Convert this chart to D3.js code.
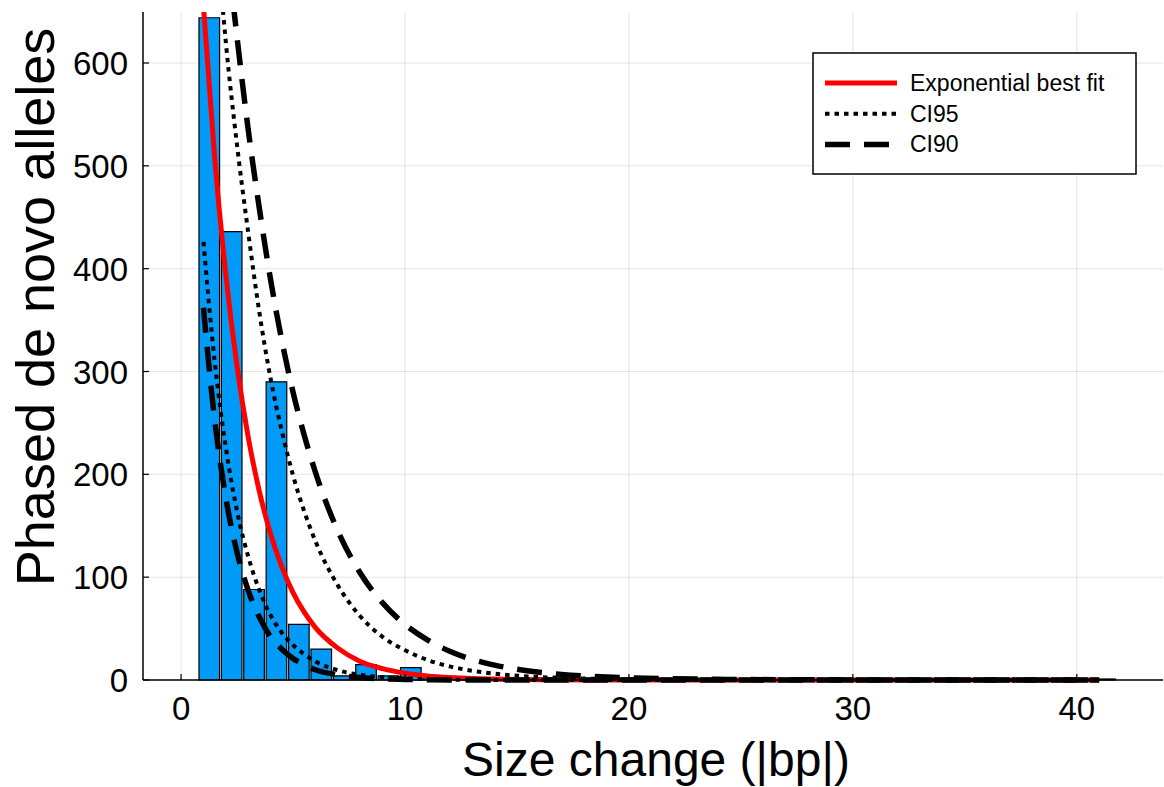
<!DOCTYPE html>
<html>
<head>
<meta charset="utf-8">
<script src="https://cdn.jsdelivr.net/npm/d3@7"></script>
<style>
  html, body { margin: 0; padding: 0; background: #fff; }
  svg { display: block; font-family: "Liberation Sans", Arial, Helvetica, sans-serif; }
</style>
</head>
<body>
<svg id="chart" width="1164" height="787"></svg>
<script>
// ---------- data ----------
const sizes  = d3.range(1, 42); // |bp| size change bins 1..41
const counts = [644, 436, 88, 290, 54, 30, 4, 15, 4, 12,
                2, 3, 1, 2, 1, 2, 1, 1, 1, 2,
                1, 1, 1, 1, 0, 1, 1, 0, 1, 1,
                0, 1, 1, 0, 1, 1, 0, 1, 0, 1, 1];

const curveX   = [1, 1.5, 2, 2.5, 3, 3.5, 4, 4.5, 5, 5.5, 6, 7, 8, 9, 10, 11, 12, 13, 14, 15, 16, 17, 18, 20, 22, 25, 30, 35, 41];
const bestFit  = [655, 508, 394, 305, 236, 183, 142, 110, 85, 66, 51, 31, 18, 11, 6.6, 4, 2.4, 1.4, 0.9, 0.5, 0.3, 0.2, 0.1, 0.05, 0, 0, 0, 0, 0];
const ci95Low  = [426, 310, 226, 164, 120, 87, 63, 46, 34, 25, 18, 9.5, 5, 2.7, 1.4, 0.8, 0.4, 0.2, 0.1, 0, 0, 0, 0, 0, 0, 0, 0, 0, 0];
const ci95High = [900, 750, 620, 520, 435, 357, 293, 242, 199, 164, 135, 92, 62, 42, 29, 19.5, 13.2, 9, 6.1, 4.2, 2.9, 2, 1.4, 0.7, 0.3, 0.1, 0, 0, 0];
const ci90Low  = [362, 253, 177, 124, 87, 61, 42, 30, 21, 15, 10, 5, 2.4, 1.2, 0.6, 0.3, 0.1, 0, 0, 0, 0, 0, 0, 0, 0, 0, 0, 0, 0];
const ci90High = [1000, 850, 725, 625, 535, 458, 389, 330, 280, 238, 202, 145, 104, 75, 54, 39, 28, 20, 14.5, 10.4, 7.5, 5.4, 3.9, 2.2, 1.2, 0.5, 0.1, 0, 0];

const xTicks = [0, 10, 20, 30, 40];
const yTicks = [0, 100, 200, 300, 400, 500, 600];
const xTitle = "Size change (|bp|)";
const yTitle = "Phased de novo alleles";
const legendItems = [
  {label: "Exponential best fit", style: "fit"},
  {label: "CI95", style: "dot"},
  {label: "CI90", style: "dash"}
];

// ---------- layout ----------
const L = 143, R = 1163, T = 12, B = 680;
const svg = d3.select("#chart");
const x = d3.scaleLinear().domain([-1.7, 43.85]).range([L, R]);
const y = d3.scaleLinear().domain([0, 649.6]).range([B, T]);

const styles = {
  fit:  {stroke: "#ff0000", width: 5, dash: null},
  dot:  {stroke: "#000", width: 4, dash: "4.5,5"},
  dash: {stroke: "#000", width: 5.5, dash: "25,14"}
};

// grid
const grid = svg.append("g");
grid.selectAll("line.gx").data(xTicks).join("line")
  .attr("x1", d => x(d)).attr("x2", d => x(d)).attr("y1", T).attr("y2", B)
  .attr("stroke", "#000").attr("stroke-opacity", 0.1).attr("stroke-width", 1);
grid.selectAll("line.gy").data(yTicks).join("line")
  .attr("x1", L).attr("x2", R).attr("y1", d => y(d)).attr("y2", d => y(d))
  .attr("stroke", "#000").attr("stroke-opacity", 0.1).attr("stroke-width", 1);

// clip
svg.append("clipPath").attr("id", "clip").append("rect")
  .attr("x", L).attr("y", T).attr("width", R - L).attr("height", B - T + 3);
const plot = svg.append("g").attr("clip-path", "url(#clip)");

// bars
const bars = sizes.map((s, i) => ({s, c: counts[i]}));
plot.append("g").selectAll("path").data(bars).join("path")
  .attr("d", d => {
    const x0 = x(d.s - 0.2), x1 = x(d.s + 0.72), y0 = y(0), y1 = y(d.c);
    return `M${x0},${y0}L${x0},${y1}L${x1},${y1}L${x1},${y0}Z`;
  })
  .attr("fill", "#009af9").attr("stroke", "#000").attr("stroke-width", 1.2);

// curves
const line = d3.line().x(d => x(d[0])).y(d => y(d[1])).curve(d3.curveMonotoneX);
function drawCurve(vals, st) {
  const s = styles[st];
  plot.append("path").datum(curveX.map((cx, i) => [cx, vals[i]]))
    .attr("d", line).attr("fill", "none")
    .attr("stroke", s.stroke).attr("stroke-width", s.width)
    .attr("stroke-dasharray", s.dash).attr("stroke-linecap", "butt");
}
drawCurve(bestFit, "fit");
drawCurve(ci95Low, "dot");
drawCurve(ci95High, "dot");
drawCurve(ci90Low, "dash");
drawCurve(ci90High, "dash");

// axes
const ax = svg.append("g");
ax.append("line").attr("x1", L).attr("x2", R).attr("y1", B).attr("y2", B).attr("stroke", "#000").attr("stroke-width", 1.5);
ax.append("line").attr("x1", L).attr("x2", L).attr("y1", T).attr("y2", B).attr("stroke", "#000").attr("stroke-width", 1.5);
ax.selectAll("line.tx").data(xTicks).join("line")
  .attr("x1", d => x(d)).attr("x2", d => x(d)).attr("y1", B).attr("y2", B - 6)
  .attr("stroke", "#000").attr("stroke-width", 1.2);
ax.selectAll("line.ty").data(yTicks).join("line")
  .attr("x1", L).attr("x2", L + 6).attr("y1", d => y(d)).attr("y2", d => y(d))
  .attr("stroke", "#000").attr("stroke-width", 1.2);
ax.selectAll("text.xl").data(xTicks).join("text")
  .attr("x", d => x(d)).attr("y", B + 40).attr("text-anchor", "middle")
  .attr("font-size", 33).text(d => d);
ax.selectAll("text.yl").data(yTicks).join("text")
  .attr("x", L - 15).attr("y", d => y(d) + 12).attr("text-anchor", "end")
  .attr("font-size", 33).text(d => d);

// titles
svg.append("text").attr("x", (L + R) / 2 + 3).attr("y", 776).attr("text-anchor", "middle")
  .attr("font-size", 48).text(xTitle);
svg.append("text").attr("transform", `translate(54,307) rotate(-90)`)
  .attr("text-anchor", "middle").attr("font-size", 54).text(yTitle);

// legend
const lg = svg.append("g");
lg.append("rect").attr("x", 813).attr("y", 53).attr("width", 323).attr("height", 121)
  .attr("fill", "#fff").attr("stroke", "#000").attr("stroke-width", 1.5);
legendItems.forEach((it, i) => {
  const cy = 83 + i * 30.7;
  const s = styles[it.style];
  lg.append("line").attr("x1", 825).attr("x2", 897).attr("y1", cy).attr("y2", cy)
    .attr("stroke", s.stroke).attr("stroke-width", s.width).attr("stroke-dasharray", s.dash);
  lg.append("text").attr("x", 910).attr("y", cy + 8).attr("font-size", 23).text(it.label);
});
</script>
</body>
</html>
